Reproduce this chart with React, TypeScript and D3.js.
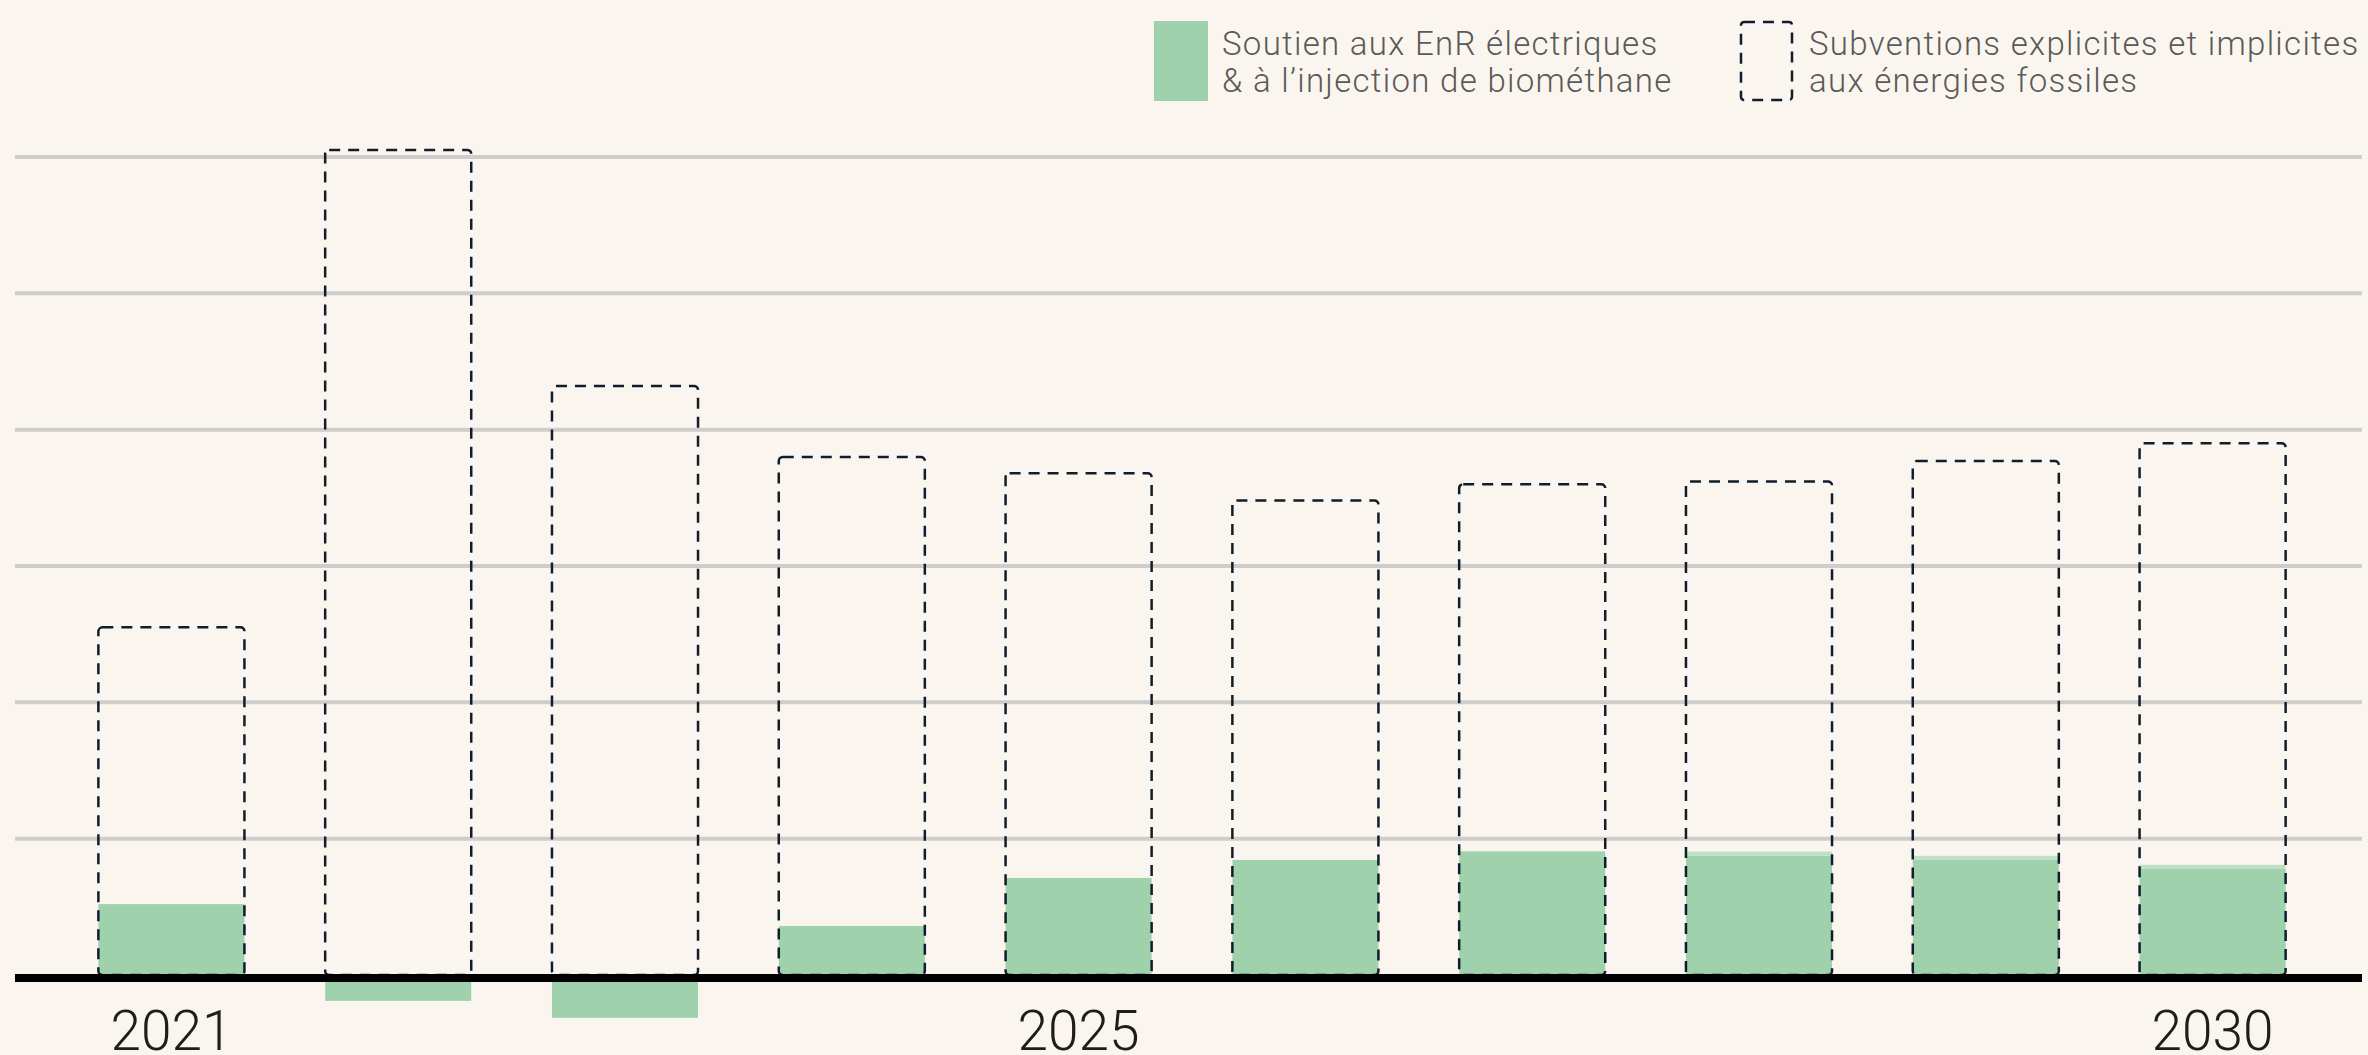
import React, { useEffect, useRef } from "react";
import * as d3 from "d3";

// values in Md€ (one grid step = 5)
const years = ["2021", "2022", "2023", "2024", "2025", "2026", "2027", "2028", "2029", "2030"];
const shownYears = ["2021", "2025", "2030"];
const enrSupport = [2.6, -0.95, -1.57, 1.8, 3.56, 4.22, 4.51, 4.37, 4.22, 3.89];
const enrExtra = [0, 0, 0, 0, 0, 0, 0.04, 0.16, 0.15, 0.15];
const fossilSubsidies = [12.75, 30.26, 21.6, 19.0, 18.4, 17.4, 18.0, 18.1, 18.85, 19.5];
const gridValues = [5, 10, 15, 20, 25, 30];

const legendGreen = ["Soutien aux EnR électriques", "& à l’injection de biométhane"];
const legendFossil = ["Subventions explicites et implicites", "aux énergies fossiles"];

const W = 2368, H = 1055;
const BG = "#faf6ef";
const GREEN = "#9fd1ac";
const GREEN_LIGHT = "#bfe0c7";
const DASH = "#0f1e2c";
const FONT = "Roboto, 'Noto Sans', sans-serif";

function draw(node) {
    const svg = d3.select(node);
    svg.selectAll("*").remove();

    svg.append("rect").attr("width", W).attr("height", H).attr("fill", BG);

    const x = d3.scaleBand()
        .domain(years)
        .range([58, 2326])
        .paddingInner(0.356)
        .paddingOuter(0.178);

    const y = d3.scaleLinear().domain([0, 30]).range([975, 157]);

    // grid
    svg.append("g")
        .selectAll("line")
        .data(gridValues)
        .enter()
            .append("line")
                .attr("x1", 15)
                .attr("x2", 2362)
                .attr("y1", d => y(d))
                .attr("y2", d => y(d))
                .attr("stroke", "#cfcdc9")
                .attr("stroke-width", 4);

    // green bars
    const bars = svg.append("g");
    bars.selectAll("rect.enr")
        .data(years)
        .enter()
            .append("rect")
                .attr("class", "enr")
                .attr("x", d => x(d))
                .attr("width", x.bandwidth())
                .attr("y", (d, i) => enrSupport[i] >= 0 ? y(enrSupport[i]) : y(0))
                .attr("height", (d, i) => Math.abs(y(0) - y(enrSupport[i])))
                .attr("fill", GREEN);

    bars.selectAll("rect.extra")
        .data(years.filter((d, i) => enrExtra[i] > 0))
        .enter()
            .append("rect")
                .attr("class", "extra")
                .attr("x", d => x(d))
                .attr("width", x.bandwidth())
                .attr("y", d => {
                    const i = years.indexOf(d);
                    return y(enrSupport[i] + enrExtra[i]);
                })
                .attr("height", d => {
                    const i = years.indexOf(d);
                    return y(enrSupport[i]) - y(enrSupport[i] + enrExtra[i]);
                })
                .attr("fill", GREEN_LIGHT);

    // dashed fossil outlines
    svg.append("g")
        .selectAll("rect")
        .data(years)
        .enter()
            .append("rect")
                .attr("x", d => x(d))
                .attr("width", x.bandwidth())
                .attr("y", (d, i) => y(fossilSubsidies[i]))
                .attr("height", (d, i) => y(0) - y(fossilSubsidies[i]))
                .attr("rx", 4)
                .attr("fill", "none")
                .attr("stroke", DASH)
                .attr("stroke-width", 2.5)
                .attr("stroke-dasharray", "11 8");

    // baseline
    svg.append("rect")
        .attr("x", 15)
        .attr("width", 2347)
        .attr("y", y(0) - 1)
        .attr("height", 8)
        .attr("fill", "#000");

    // year labels
    svg.append("g")
        .selectAll("text")
        .data(shownYears)
        .enter()
            .append("text")
                .attr("x", d => x(d) + x.bandwidth() / 2)
                .attr("y", 1050)
                .attr("text-anchor", "middle")
                .style("font-family", FONT)
                .style("font-weight", 300)
                .style("font-size", "55px")
                .style("fill", "#1d1d1b")
                .text(d => d);

    // legend
    const lg = svg.append("g");
    lg.append("rect")
        .attr("x", 1154).attr("y", 21)
        .attr("width", 54).attr("height", 80)
        .attr("fill", GREEN);
    lg.append("rect")
        .attr("x", 1741).attr("y", 22)
        .attr("width", 51).attr("height", 78)
        .attr("rx", 3)
        .attr("fill", "none")
        .attr("stroke", DASH)
        .attr("stroke-width", 2.5)
        .attr("stroke-dasharray", "11 8");

    const addLines = (lines, x0) => {
        lines.forEach((t, i) => {
            lg.append("text")
                .attr("x", x0)
                .attr("y", 55 + i * 36.5)
                .style("font-family", FONT)
                .style("font-weight", 300)
                .style("font-size", "33px")
                .style("letter-spacing", "1.3px")
                .style("fill", "#5a5a58")
                .text(t);
        });
    };
    addLines(legendGreen, 1222);
    addLines(legendFossil, 1809);
}

export default function App() {
    const ref = useRef(null);
    useEffect(() => {
        document.body.style.margin = "0";
        document.body.style.background = BG;
        draw(ref.current);
    });
    return <svg ref={ref} width={W} height={H} style={{ display: "block" }}></svg>;
}
